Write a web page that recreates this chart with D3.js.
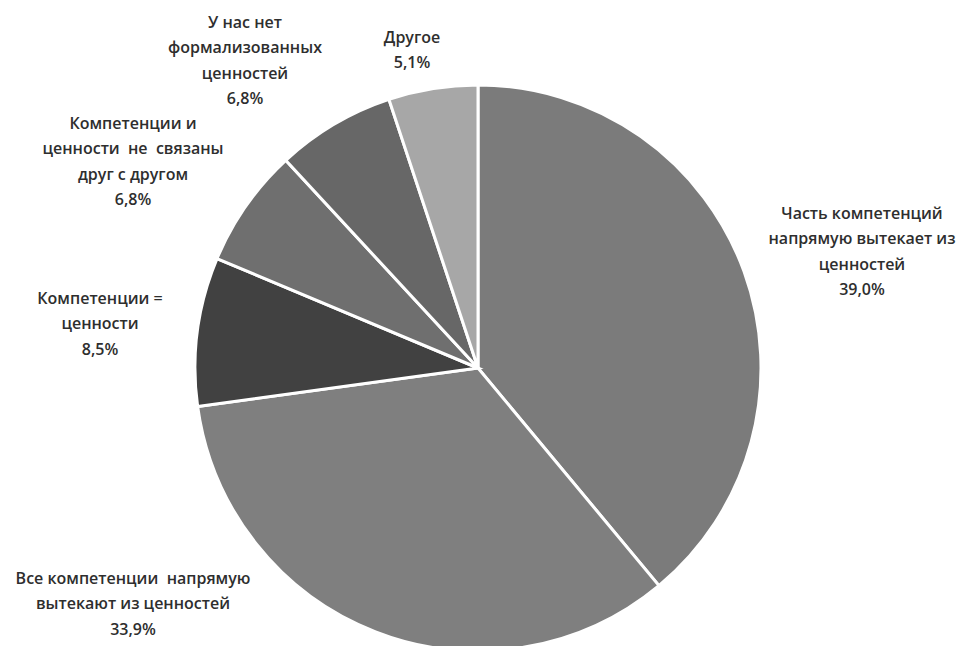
<!DOCTYPE html>
<html>
<head>
<meta charset="utf-8">
<script src="https://cdn.jsdelivr.net/npm/d3@7"></script>
<style>
  body { margin: 0; background: #fff; }
  text { font-family: "Open Sans", "DejaVu Sans", sans-serif; }
</style>
</head>
<body>
<script>
// data
var categories = [
  ["Часть компетенций", "напрямую вытекает из", "ценностей"],
  ["Все компетенции  напрямую", "вытекают из ценностей"],
  ["Компетенции =", "ценности"],
  ["Компетенции и", "ценности  не  связаны", "друг с другом"],
  ["У нас нет", "формализованных", "ценностей"],
  ["Другое"]
]
var values = [39.0, 33.9, 8.5, 6.8, 6.8, 5.1]
var colors = ["#7b7b7b", "#7f7f7f", "#414141", "#6f6f6f", "#676767", "#a7a7a7"]

// where excel dropped the labels (center x, first line y)
var labelPos = [[862, 213], [133, 578], [100, 298], [133, 123], [245, 22], [412, 37]]

var w = 967
var h = 646
var cx = 478, cy = 368, r = 283

var svg = d3.select("body").append("svg")
   .attr("width", w)
   .attr("height", h)

var pie = d3.pie().sort(null).value(function(d) { return d })
var arc = d3.arc().innerRadius(0).outerRadius(r)

var g = svg.append("g").attr("transform", "translate(" + cx + "," + cy + ")")

g.selectAll("path")
  .data(pie(values))
  .enter().append("path")
  .attr("d", arc)
  .attr("fill", function(d, i) { return colors[i] })
  .attr("stroke", "#fff")
  .attr("stroke-width", 3)

var fmt = function(v) { return v.toFixed(1).replace(".", ",") + "%" }

var labels = svg.selectAll("text.lab")
  .data(values)
  .enter().append("text")
  .attr("class", "lab")
  .attr("text-anchor", "middle")
  .attr("font-size", 16)
  .attr("font-weight", 600)
  .attr("fill", "#2e2e2e")

labels.each(function(v, i) {
  var lines = categories[i].concat([fmt(v)])
  var t = d3.select(this)
  lines.forEach(function(s, j) {
    t.append("tspan")
      .attr("x", labelPos[i][0])
      .attr("y", labelPos[i][1] + j * 25.5)
      .attr("dy", "0.35em")
      .attr("xml:space", "preserve")
      .text(s)
  })
})
</script>
</body>
</html>
